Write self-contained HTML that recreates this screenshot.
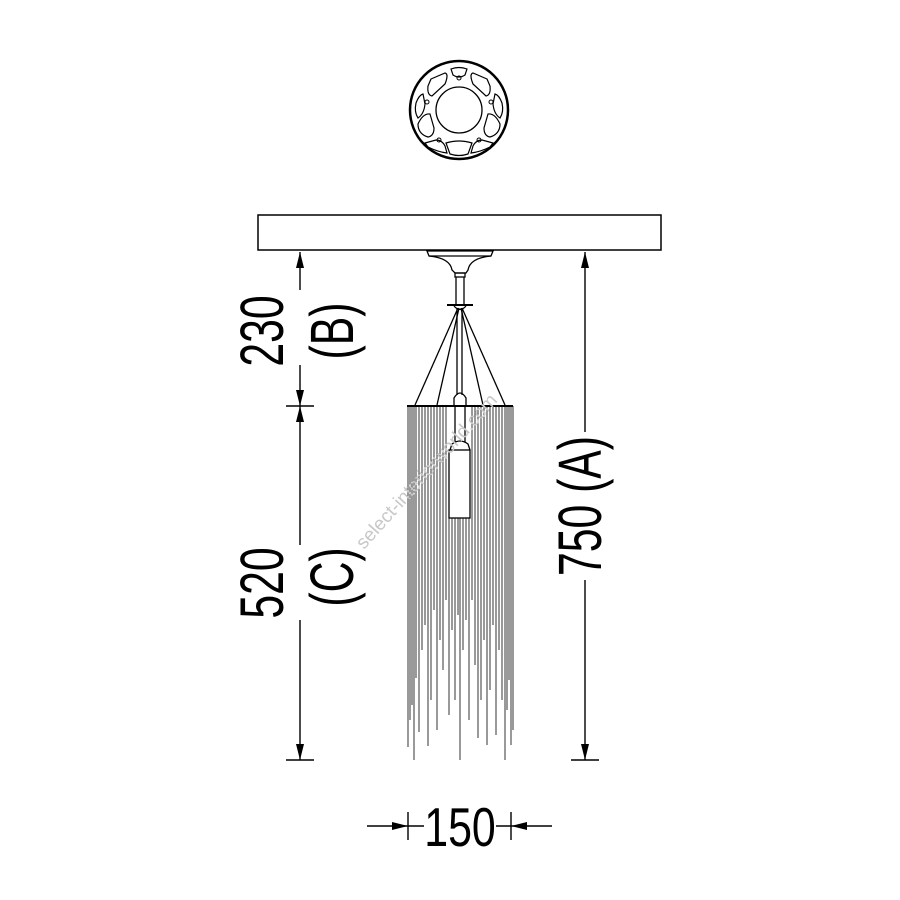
<!DOCTYPE html>
<html><head><meta charset="utf-8"><style>
html,body{margin:0;padding:0;background:#fff;width:900px;height:900px;overflow:hidden}
svg{display:block}
text{font-family:"Liberation Sans",sans-serif;fill:#000}
</style></head><body>
<svg width="900" height="900" viewBox="0 0 900 900" xmlns="http://www.w3.org/2000/svg">
<g fill="none" stroke="#000">
<circle cx="459" cy="110" r="49" stroke-width="2.5"/>
<circle cx="459" cy="110" r="23" stroke-width="1.3"/>
<path d="M451 69 Q459 66 467 69 L465 75 Q459 79 453 75 Z" stroke-width="1.2"/>
<path d="M431 79 L445 73 Q449 74 445 84 L432 96 Q427 95 428 86 Z" stroke-width="1.2"/>
<path d="M487 79 L473 73 Q469 74 473 84 L486 96 Q491 95 490 86 Z" stroke-width="1.2"/>
<path d="M416 103 Q419 95 423 94 L425 104 Q424 114 418 118 Q414 112 416 103 Z" stroke-width="1.2"/>
<path d="M502 103 Q499 95 495 94 L493 104 Q494 114 500 118 Q504 112 502 103 Z" stroke-width="1.2"/>
<path d="M418 124 Q423 113 430 114 L434 128 Q434 136 428 137 Q418 134 418 124 Z" stroke-width="1.2"/>
<path d="M500 124 Q495 113 488 114 L484 128 Q484 136 490 137 Q500 134 500 124 Z" stroke-width="1.2"/>
<path d="M425 143 L436 140 Q442 140 445 146 L447 153 Q438 152 428 147 Z" stroke-width="1.2"/>
<path d="M493 143 L482 140 Q476 140 473 146 L471 153 Q480 152 490 147 Z" stroke-width="1.2"/>
<path d="M446 143 Q459 139 472 143 L468 154 Q459 157 450 154 Z" stroke-width="1.2"/>
<circle cx="459" cy="78" r="2" stroke-width="1"/>
<circle cx="427" cy="102" r="2" stroke-width="1"/>
<circle cx="491" cy="102" r="2" stroke-width="1"/>
<circle cx="439" cy="140" r="2" stroke-width="1"/>
<circle cx="479" cy="140" r="2" stroke-width="1"/>
</g>
<rect x="258" y="215" width="403" height="35" fill="none" stroke="#000" stroke-width="1.5"/>
<g fill="none" stroke="#000" stroke-width="1.3">
<path d="M427 251 L493 251 L491 256 L429 256 Z"/>
<path d="M429 256 Q450 258 452 270 L455 273 L466 273 L468 270 Q470 258 491 256"/>
<rect x="455" y="273" width="10" height="4"/>
<line x1="456" y1="277" x2="456" y2="305"/>
<line x1="464" y1="277" x2="464" y2="305"/>
<line x1="447" y1="305" x2="473" y2="305" stroke-width="2"/>
<path d="M454 306 Q460 313 466 306"/>
<line x1="457" y1="308" x2="457" y2="395"/>
<line x1="462" y1="308" x2="462" y2="395"/>
<path d="M454 405 L454 398 Q460 388 466 398 L466 405"/>
<line x1="458" y1="308" x2="415" y2="405"/>
<line x1="459" y1="308" x2="437" y2="405"/>
<line x1="461" y1="308" x2="483" y2="405"/>
<line x1="462" y1="308" x2="505" y2="405"/>
<line x1="407" y1="406" x2="513" y2="406" stroke-width="2"/>
<line x1="455" y1="406" x2="455" y2="442"/>
<line x1="465" y1="406" x2="465" y2="442"/>
<path d="M450 450 L452 444 Q460 438 468 444 L470 450"/>
<rect x="449" y="450" width="21" height="68"/>
</g>
<g stroke="#000" stroke-width="0.8">
<line x1="408" y1="406" x2="408" y2="747"/><line x1="410" y1="406" x2="410" y2="720"/>
<line x1="412" y1="406" x2="412" y2="705"/><line x1="414" y1="406" x2="414" y2="760"/>
<line x1="416" y1="406" x2="416" y2="678"/><line x1="419" y1="406" x2="419" y2="732"/>
<line x1="422" y1="406" x2="422" y2="650"/><line x1="425" y1="406" x2="425" y2="625"/>
<line x1="428" y1="406" x2="428" y2="746"/><line x1="431" y1="406" x2="431" y2="700"/>
<line x1="434" y1="406" x2="434" y2="610"/><line x1="437" y1="406" x2="437" y2="730"/>
<line x1="440" y1="406" x2="440" y2="640"/><line x1="443" y1="406" x2="443" y2="670"/>
<line x1="446" y1="406" x2="446" y2="600"/><line x1="449" y1="518" x2="449" y2="715"/>
<line x1="452" y1="518" x2="452" y2="630"/><line x1="455" y1="518" x2="455" y2="700"/>
<line x1="458" y1="518" x2="458" y2="615"/><line x1="460" y1="518" x2="460" y2="760"/>
<line x1="463" y1="518" x2="463" y2="650"/><line x1="466" y1="518" x2="466" y2="620"/>
<line x1="469" y1="518" x2="469" y2="720"/><line x1="472" y1="406" x2="472" y2="600"/>
<line x1="475" y1="406" x2="475" y2="665"/><line x1="478" y1="406" x2="478" y2="738"/>
<line x1="481" y1="406" x2="481" y2="700"/><line x1="484" y1="406" x2="484" y2="640"/>
<line x1="487" y1="406" x2="487" y2="745"/><line x1="490" y1="406" x2="490" y2="690"/>
<line x1="493" y1="406" x2="493" y2="625"/><line x1="496" y1="406" x2="496" y2="735"/>
<line x1="499" y1="406" x2="499" y2="650"/><line x1="502" y1="406" x2="502" y2="700"/>
<line x1="505" y1="406" x2="505" y2="760"/><line x1="507" y1="406" x2="507" y2="710"/>
<line x1="509" y1="406" x2="509" y2="680"/><line x1="511" y1="406" x2="511" y2="745"/>
<line x1="513" y1="406" x2="513" y2="730"/>
</g>
<g stroke="#000" stroke-width="1.4" fill="#000">
<line x1="300" y1="252" x2="300" y2="290"/>
<line x1="300" y1="365" x2="300" y2="406"/>
<line x1="286" y1="406" x2="314" y2="406"/>
<line x1="300" y1="406" x2="300" y2="545"/>
<line x1="300" y1="620" x2="300" y2="760"/>
<line x1="286" y1="760" x2="314" y2="760"/>
<path d="M300 252 L296 268 L304 268 Z" stroke="none"/>
<path d="M300 406 L296 390 L304 390 Z" stroke="none"/>
<path d="M300 406 L296 422 L304 422 Z" stroke="none"/>
<path d="M300 760 L296 744 L304 744 Z" stroke="none"/>
<line x1="585" y1="252" x2="585" y2="432"/>
<line x1="585" y1="580" x2="585" y2="760"/>
<line x1="571" y1="760" x2="599" y2="760"/>
<path d="M585 252 L581 268 L589 268 Z" stroke="none"/>
<path d="M585 760 L581 744 L589 744 Z" stroke="none"/>
<line x1="367" y1="826" x2="424" y2="826"/>
<line x1="408" y1="812" x2="408" y2="840"/>
<line x1="496" y1="826" x2="552" y2="826"/>
<line x1="511" y1="812" x2="511" y2="840"/>
<path d="M408 826 L392 822 L392 830 Z" stroke="none"/>
<path d="M511 826 L527 822 L527 830 Z" stroke="none"/>
</g>
<text transform="translate(283,331) rotate(-90) scale(0.7,1)" font-size="61" text-anchor="middle">230</text>
<text transform="translate(353,331) rotate(-90) scale(0.7,1)" font-size="61" text-anchor="middle">(B)</text>
<text transform="translate(283,583) rotate(-90) scale(0.7,1)" font-size="61" text-anchor="middle">520</text>
<text transform="translate(353,577) rotate(-90) scale(0.7,1)" font-size="61" text-anchor="middle">(C)</text>
<text transform="translate(601,506) rotate(-90) scale(0.7,1)" font-size="61" text-anchor="middle">750 (A)</text>
<text transform="translate(460,846) scale(0.78,1)" font-size="55" text-anchor="middle">150</text>
<text transform="translate(364,550) rotate(-48)" font-size="19" style="fill:#c8c8c8">select-interiorworld.com</text>
</svg>
</body></html>
